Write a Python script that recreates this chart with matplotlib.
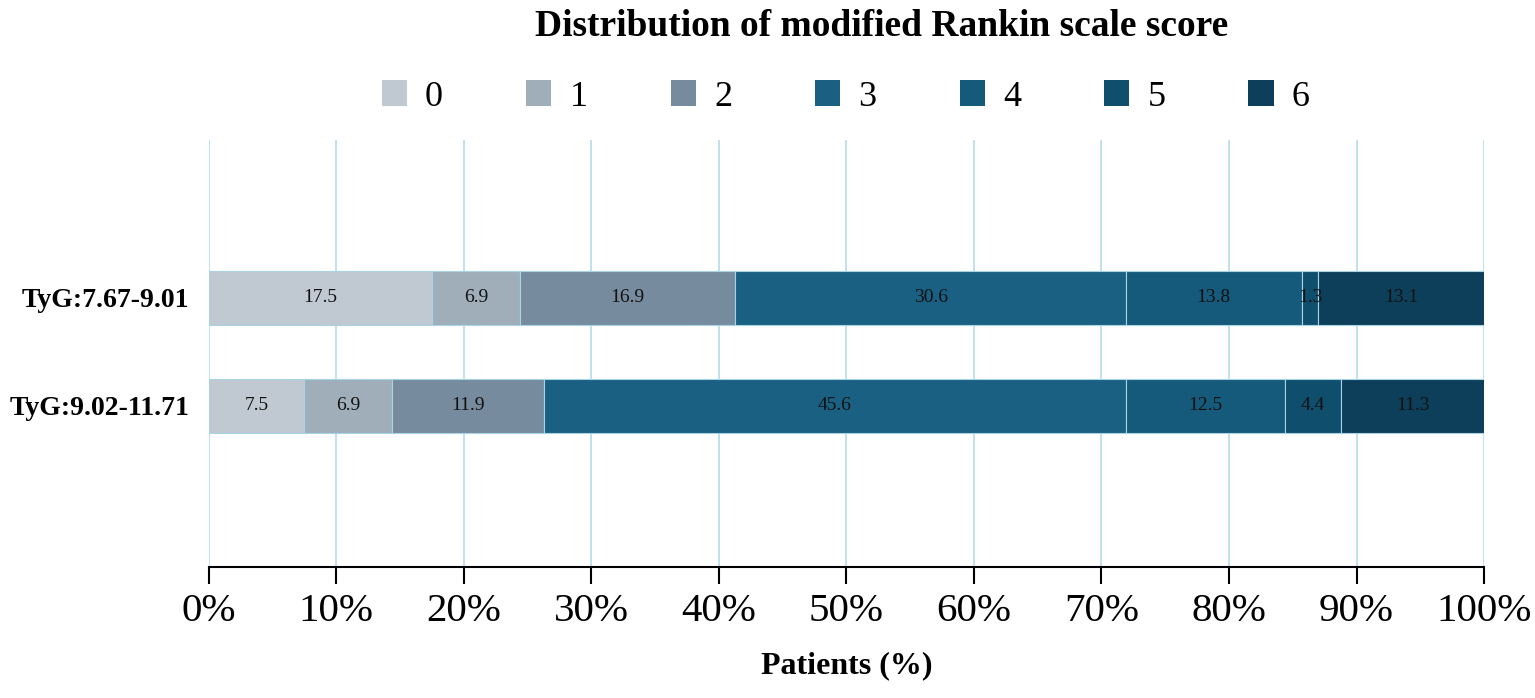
import numpy as np
import matplotlib

matplotlib.use("Agg")
import matplotlib.pyplot as plt
from matplotlib.patches import Patch

plt.rcParams["font.family"] = ["Liberation Serif", "DejaVu Serif"]

groups = ["TyG:9.02-11.71", "TyG:7.67-9.01"]
scores = ["0", "1", "2", "3", "4", "5", "6"]
# percentages per mRS score, rows follow groups
values = np.array([
    [7.5, 6.9, 11.9, 45.6, 12.5, 4.4, 11.3],
    [17.5, 6.9, 16.9, 30.6, 13.8, 1.3, 13.1],
])
colors = ["#c0c8d1", "#a0aeba", "#778b9f", "#196083", "#155a7b", "#0f4e6c", "#0d3f5a"]
xticks = [0, 10, 20, 30, 40, 50, 60, 70, 80, 90, 100]

fig = plt.figure(figsize=(15.35, 6.98), dpi=100)
ax = fig.add_axes([0.136, 0.188, 0.8308, 0.6114])

y = np.arange(len(groups))
left = np.zeros(len(groups))
for i, score in enumerate(scores):
    vals = values[:, i]
    ax.barh(y, vals, left=left, height=0.5, color=colors[i],
            edgecolor="#a8d3e6", linewidth=0.8, zorder=3)
    for yy, l, v in zip(y, left, vals):
        ax.text(l + v / 2, yy, f"{v:.1f}", ha="center", va="center",
                fontsize=14, color="#111111", zorder=4)
    left += vals

ax.set_xlim(0, 100)
ax.set_ylim(-1.49, 2.46)
ax.set_xticks(xticks)
ax.set_xticklabels([f"{t}%" for t in xticks], fontsize=29.5)
ax.set_yticks(y)
ax.set_yticklabels(groups, fontsize=20, fontweight="bold")
ax.tick_params(axis="y", length=0, pad=14)
ax.tick_params(axis="x", length=12, width=1.5, pad=7)

ax.grid(axis="x", color="#b5dcec", linewidth=1.2, zorder=0)
for side in ["top", "right", "left"]:
    ax.spines[side].set_visible(False)
ax.spines["bottom"].set_linewidth(1.5)

ax.set_xlabel("Patients (%)", fontsize=23, fontweight="bold", labelpad=15)

fig.text(0.5746, 0.962, "Distribution of modified Rankin scale score",
         ha="center", va="center", fontsize=27, fontweight="bold")

handles = [Patch(facecolor=c, edgecolor="none") for c in colors]
fig.legend(handles, scores, loc="center", bbox_to_anchor=(0.551, 0.861),
           ncol=7, frameon=False, fontsize=26, handlelength=0.7,
           handleheight=0.7, handletextpad=0.5, columnspacing=2.3)

fig.savefig("out.png", dpi=100)
